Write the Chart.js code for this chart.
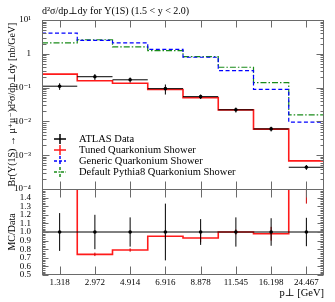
<!DOCTYPE html>
<html>
<head>
<meta charset="utf-8">
<script src="https://cdn.jsdelivr.net/npm/chart.js@4"></script>
<style>
  body { margin: 0; background: #fff; }
  #wrap { width: 335px; height: 302px; }
</style>
</head>
<body>
<div id="wrap"><canvas id="grafico"></canvas></div>
<script>
// bins (bin centre labels)
const binLabels = ['1.318', '2.972', '4.914', '6.916', '8.878', '11.545', '16.198', '24.467'];

// ATLAS data and relative errors
const atlasData = [0.11, 0.21, 0.17, 0.093, 0.054, 0.022, 0.0060, 0.00044];
const atlasRelErr = [0.22, 0.20, 0.17, 0.33, 0.15, 0.17, 0.16, 0.165];

// MC predictions
const tunedShower = [0.25, 0.16, 0.134, 0.088, 0.050, 0.022, 0.0059, 0.00068];
const genericShower = [4.1, 2.5, 2.1, 1.36, 0.79, 0.32, 0.089, 0.0095];
const defaultShower = [2.1, 2.6, 1.6, 1.24, 0.82, 0.40, 0.14, 0.0155];

// MC / Data
const tunedRatio = [2.3, 0.74, 0.79, 0.95, 0.93, 1.0, 0.98, 1.55];
const tunedRatioErr = [0.05, 0.02, 0.02, 0.03, 0.05, 0.03, 0.08, 0.22];
const genericRatio = [37, 12, 12, 15, 15, 15, 15, 22];
const defaultRatio = [19, 12, 9.4, 13, 15, 18, 23, 35];

const logTicks = [1e-4, 1e-3, 1e-2, 1e-1, 1, 10];
const logLabels = ['10⁻⁴', '10⁻³', '10⁻²', '10⁻¹', '1', '10¹'];

const SERIF = '"Liberation Serif", "DejaVu Serif", serif';

// histogram as step line: one point per bin edge
function histo(vals) {
  const pts = vals.map((v, i) => ({ x: i, y: v }));
  pts.push({ x: vals.length, y: vals[vals.length - 1] });
  return pts;
}

const centers = binLabels.map((_, i) => i + 0.5);

const decor = {
  id: 'decor',
  afterDatasetsDraw(chart) {
    const { ctx } = chart;
    const xs = chart.scales.x, ys = chart.scales.y, rs = chart.scales.y2;
    const L = xs.left, R = xs.right;

    ctx.save();
    // data error bars, main panel
    ctx.beginPath();
    ctx.rect(L, ys.top, R - L, ys.bottom - ys.top);
    ctx.clip();
    ctx.strokeStyle = '#000';
    ctx.lineWidth = 1;
    atlasData.forEach((v, i) => {
      const py = ys.getPixelForValue(v);
      ctx.beginPath();
      ctx.moveTo(xs.getPixelForValue(i), py);
      ctx.lineTo(xs.getPixelForValue(i + 1), py);
      ctx.moveTo(xs.getPixelForValue(i + 0.5), ys.getPixelForValue(v * (1 - atlasRelErr[i])));
      ctx.lineTo(xs.getPixelForValue(i + 0.5), ys.getPixelForValue(v * (1 + atlasRelErr[i])));
      ctx.stroke();
    });
    ctx.restore();

    // ratio panel
    ctx.save();
    ctx.beginPath();
    ctx.rect(L, rs.top, R - L, rs.bottom - rs.top);
    ctx.clip();
    ctx.strokeStyle = '#cc0000';
    ctx.lineWidth = 1;
    tunedRatio.forEach((v, i) => {
      const px = xs.getPixelForValue(i + 0.5);
      ctx.beginPath();
      ctx.moveTo(px, rs.getPixelForValue(v - tunedRatioErr[i]));
      ctx.lineTo(px, rs.getPixelForValue(v + tunedRatioErr[i]));
      ctx.stroke();
    });
    ctx.strokeStyle = '#000';
    const p1 = rs.getPixelForValue(1);
    ctx.beginPath();
    ctx.moveTo(L, p1);
    ctx.lineTo(R, p1);
    ctx.stroke();
    atlasRelErr.forEach((e, i) => {
      const px = xs.getPixelForValue(i + 0.5);
      ctx.beginPath();
      ctx.moveTo(px, rs.getPixelForValue(1 - e));
      ctx.lineTo(px, rs.getPixelForValue(1 + e));
      ctx.stroke();
      ctx.fillStyle = '#000';
      ctx.beginPath();
      ctx.arc(px, p1, 1.8, 0, Math.PI * 2);
      ctx.fill();
    });
    ctx.restore();
  },
  afterDraw(chart) {
    const { ctx } = chart;
    const xs = chart.scales.x, ys = chart.scales.y, rs = chart.scales.y2;
    const L = xs.left, R = xs.right;
    ctx.save();
    ctx.strokeStyle = '#6a6a6a';
    ctx.lineWidth = 1;

    // frames
    ctx.strokeRect(L + 0.5, ys.top + 0.5, R - L - 1, ys.bottom - ys.top);
    ctx.strokeRect(L + 0.5, rs.top + 0.5, R - L - 1, rs.bottom - rs.top - 1);

    const tick = (x1, y1, x2, y2) => {
      ctx.beginPath();
      ctx.moveTo(Math.round(x1) + 0.5, Math.round(y1) + 0.5);
      ctx.lineTo(Math.round(x2) + 0.5, Math.round(y2) + 0.5);
      ctx.stroke();
    };

    // log ticks main panel
    for (let e = -4; e <= 1; e++) {
      for (let k = 1; k <= 9; k++) {
        const v = k * Math.pow(10, e);
        if (v > 10.0001) break;
        const py = ys.getPixelForValue(v);
        const len = k === 1 ? 7 : 3.5;
        tick(L, py, L + len, py);
        tick(R - 1, py, R - 1 - len, py);
      }
    }
    // linear ticks ratio panel
    for (let j = 0; j <= 50; j++) {
      const v = 0.5 + j * 0.02;
      const py = rs.getPixelForValue(v);
      const len = j % 5 === 0 ? 6 : 3;
      tick(L, py, L + len, py);
      tick(R - 1, py, R - 1 - len, py);
    }
    // bin centre ticks
    centers.forEach(c => {
      const px = xs.getPixelForValue(c);
      tick(px, ys.top, px, ys.top + 7);
      tick(px, ys.bottom, px, ys.bottom - 8);
      tick(px, rs.top, px, rs.top + 8);
      tick(px, rs.bottom - 1, px, rs.bottom - 9);
    });

    // title
    ctx.fillStyle = '#000';
    ctx.font = '10px ' + SERIF;
    ctx.textBaseline = 'alphabetic';
    ctx.textAlign = 'left';
    ctx.fillText('d²σ/dp⊥dy for Υ(1S) (1.5 < y < 2.0)', L, 14);

    // legend
    const items = chart.data.datasets.filter(d => d.legendColor);
    items.forEach((d, i) => {
      const cy = 139 + i * 11;
      ctx.strokeStyle = d.legendColor;
      ctx.lineWidth = 1.5;
      ctx.setLineDash(d.legendDash || []);
      ctx.beginPath();
      ctx.moveTo(54, cy);
      ctx.lineTo(66, cy);
      ctx.moveTo(60, cy - 5);
      ctx.lineTo(60, cy + 5);
      ctx.stroke();
      ctx.setLineDash([]);
      ctx.fillStyle = '#000';
      ctx.font = '10.5px ' + SERIF;
      ctx.textBaseline = 'middle';
      ctx.fillText(d.label, 79, cy + 0.5);
    });
    ctx.restore();
  }
};

const ctx = document.getElementById('grafico').getContext('2d');

new Chart(ctx, {
  type: 'line',
  data: {
    datasets: [
      {
        label: 'ATLAS Data',
        type: 'scatter',
        data: atlasData.map((v, i) => ({ x: centers[i], y: v })),
        yAxisID: 'y',
        pointRadius: 1.8,
        pointBackgroundColor: '#000',
        pointBorderWidth: 0,
        legendColor: '#000'
      },
      {
        label: 'Tuned Quarkonium Shower',
        data: histo(tunedShower),
        yAxisID: 'y',
        stepped: 'before',
        borderColor: '#ff1a1a',
        borderWidth: 1.6,
        pointRadius: 0,
        legendColor: '#ff1a1a'
      },
      {
        label: 'Generic Quarkonium Shower',
        data: histo(genericShower),
        yAxisID: 'y',
        stepped: 'before',
        borderColor: '#0000ff',
        borderWidth: 1.2,
        borderDash: [4, 2.5],
        pointRadius: 0,
        legendColor: '#0000ff',
        legendDash: [3, 2]
      },
      {
        label: 'Default Pythia8 Quarkonium Shower',
        data: histo(defaultShower),
        yAxisID: 'y',
        stepped: 'before',
        borderColor: '#1a8c1a',
        borderWidth: 1.2,
        borderDash: [6, 2, 1.5, 2],
        pointRadius: 0,
        legendColor: '#1a8c1a',
        legendDash: [3, 1.5, 1, 1.5]
      },
      {
        label: 'tuned ratio',
        data: histo(tunedRatio),
        yAxisID: 'y2',
        stepped: 'before',
        borderColor: '#ff1a1a',
        borderWidth: 1.6,
        pointRadius: 0
      },
      {
        label: 'generic ratio',
        data: histo(genericRatio),
        yAxisID: 'y2',
        stepped: 'before',
        borderColor: '#0000ff',
        borderWidth: 1.2,
        pointRadius: 0
      },
      {
        label: 'default ratio',
        data: histo(defaultRatio),
        yAxisID: 'y2',
        stepped: 'before',
        borderColor: '#1a8c1a',
        borderWidth: 1.2,
        pointRadius: 0
      }
    ]
  },
  options: {
    responsive: true,
    maintainAspectRatio: false,
    animation: false,
    layout: { padding: { top: 20, right: 11, left: 0, bottom: 0 } },
    plugins: {
      legend: { display: false },
      tooltip: { enabled: false },
      title: { display: false }
    },
    scales: {
      x: {
        type: 'linear',
        min: 0,
        max: 8,
        grid: { display: false, drawTicks: false },
        border: { display: false },
        afterBuildTicks: s => { s.ticks = centers.map(c => ({ value: c })); },
        afterFit: s => { s.height = 27; },
        ticks: {
          autoSkip: false,
          maxRotation: 0,
          padding: 2,
          color: '#000',
          font: { family: SERIF, size: 9 },
          callback: (v) => binLabels[Math.floor(v)]
        },
        title: {
          display: true,
          text: 'p⊥ [GeV]',
          align: 'end',
          padding: { top: 0, bottom: 2 },
          color: '#000',
          font: { family: SERIF, size: 10.5 }
        }
      },
      y: {
        type: 'logarithmic',
        position: 'left',
        stack: 'painel',
        stackWeight: 169,
        weight: 2,
        min: 1e-4,
        max: 10,
        grid: { display: false },
        border: { display: false },
        afterBuildTicks: s => { s.ticks = logTicks.map(v => ({ value: v })); },
        afterFit: s => { s.width = 42; },
        ticks: {
          autoSkip: false,
          padding: 3,
          color: '#000',
          font: { family: SERIF, size: 9 },
          callback: (v) => logLabels[logTicks.findIndex(t => Math.abs(t - v) / t < 1e-6)]
        },
        title: {
          display: true,
          text: 'Br(Υ(1S) → μ⁺μ⁻)d²σ/dp⊥dy [nb/GeV]',
          padding: { top: 6, bottom: 0 },
          color: '#000',
          font: { family: SERIF, size: 10 }
        }
      },
      y2: {
        type: 'linear',
        position: 'left',
        stack: 'painel',
        stackWeight: 86,
        weight: 1,
        min: 0.5,
        max: 1.5,
        grid: { display: false },
        border: { display: false },
        afterFit: s => { s.width = 42; },
        ticks: {
          stepSize: 0.1,
          autoSkip: false,
          padding: 3,
          color: '#000',
          font: { family: SERIF, size: 9 },
          callback: (v) => (v > 1.45 ? '' : v.toFixed(1))
        },
        title: {
          display: true,
          text: 'MC/Data',
          padding: { top: 6, bottom: 0 },
          color: '#000',
          font: { family: SERIF, size: 10 }
        }
      }
    }
  },
  plugins: [decor]
});
</script>
</body>
</html>
